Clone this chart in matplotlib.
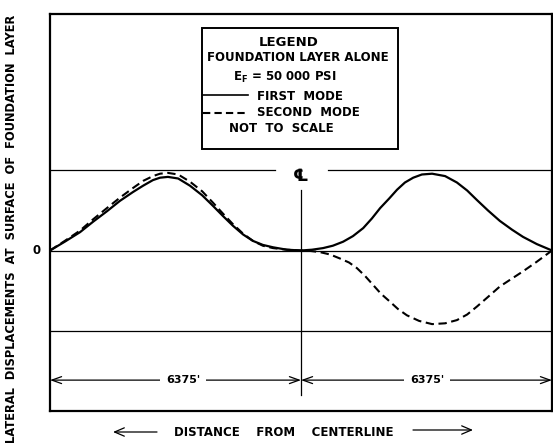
import matplotlib
matplotlib.use("Agg")
import matplotlib.pyplot as plt
from matplotlib.patches import Rectangle
from matplotlib.lines import Line2D

# distance from centerline (ft) and lateral displacement (relative, not to scale)
dist_left = [-6375, -6000, -5610, -5280, -4930, -4600, -4270, -4010, -3760, -3580, -3380, -3120,
             -2820, -2510, -2240, -1980, -1730, -1470, -1220, -970, -710, -360, 0]
first_left = [0.0, 0.11, 0.23, 0.36, 0.49, 0.62, 0.73, 0.81, 0.88, 0.91, 0.92, 0.90,
              0.81, 0.69, 0.56, 0.43, 0.31, 0.20, 0.12, 0.07, 0.04, 0.01, 0.0]
second_left = [0.0, 0.12, 0.25, 0.39, 0.53, 0.66, 0.78, 0.87, 0.93, 0.96, 0.97, 0.95,
               0.86, 0.74, 0.60, 0.46, 0.33, 0.21, 0.12, 0.06, 0.03, 0.01, 0.0]

dist_first_right = [280, 560, 810, 1070, 1320, 1580, 1800, 2010, 2240, 2440, 2640, 2850,
                    3070, 3330, 3660, 3960, 4220, 4470, 4750, 5050, 5360, 5640, 5990, 6375]
first_right = [0.01, 0.03, 0.06, 0.11, 0.18, 0.28, 0.40, 0.53, 0.65, 0.76, 0.85, 0.91,
               0.95, 0.96, 0.93, 0.85, 0.75, 0.63, 0.50, 0.37, 0.26, 0.17, 0.08, 0.0]

dist_second_right = [230, 480, 740, 990, 1220, 1420, 1630, 1830, 2030, 2260, 2460, 2690,
                     3000, 3330, 3660, 3960, 4220, 4470, 4750, 5050, 5360, 5640, 5990, 6375]
second_right = [-0.005, -0.02, -0.05, -0.10, -0.15, -0.22, -0.32, -0.43, -0.54, -0.64, -0.73, -0.81,
                -0.88, -0.92, -0.91, -0.87, -0.80, -0.70, -0.58, -0.45, -0.35, -0.26, -0.14, 0.0]

half_span = 6375
dim_label = "6375'"

W, H = 553, 446


def fx(px):
    return px / W


def fy(py):
    return 1 - py / H


fig = plt.figure(figsize=(W / 100, H / 100), dpi=100)
fig.patch.set_facecolor("white")
ax = fig.add_axes([fx(50), fy(411), 502 / W, 397 / H])
ax.set_xlim(-half_span, half_span)
ax.set_ylim(-2.006, 2.956)
ax.set_xticks([])
ax.set_yticks([])
for sp in ax.spines.values():
    sp.set_linewidth(1.6)

bold = dict(fontweight="bold", family="DejaVu Sans", color="black")

# reference lines
ax.plot([-half_span, -660], [1, 1], color="black", lw=0.9)
ax.plot([690, half_span], [1, 1], color="black", lw=0.9)
ax.axhline(0, color="black", lw=0.9)
ax.axhline(-1, color="black", lw=0.9)
ax.plot([0, 0], [0.76, -1.81], color="black", lw=0.9)
ax.text(0, 0.93, "\u2104", ha="center", va="center", fontsize=12.5, **bold)

# mode shapes
ax.plot(dist_left + dist_first_right, first_left + first_right,
        color="black", lw=1.6, solid_joinstyle="round")
ax.plot(dist_left + dist_second_right, second_left + second_right,
        color="black", lw=1.5, linestyle=(0, (4, 2.2)))

# dimension lines
yd = -1.62
arrow = dict(arrowstyle="<->,head_length=0.7,head_width=0.25", lw=0.9, color="black",
             shrinkA=0, shrinkB=0)
ax.annotate("", xy=(-half_span, yd), xytext=(0, yd), arrowprops=arrow)
ax.annotate("", xy=(0, yd), xytext=(half_span, yd), arrowprops=arrow)
tb = dict(facecolor="white", edgecolor="none", pad=4)
ax.text(-3000, yd, dim_label, ha="center", va="center", fontsize=8, bbox=tb, zorder=5, **bold)
ax.text(3200, yd, dim_label, ha="center", va="center", fontsize=8, bbox=tb, zorder=5, **bold)

ax.text(-half_span - 250, 0, "0", ha="right", va="center", fontsize=8.5, **bold)

# legend block
fig.add_artist(Rectangle((fx(202), fy(149)), (398 - 202) / W, (149 - 28) / H,
                         transform=fig.transFigure, fill=False, lw=1.4, edgecolor="black"))
fig.text(fx(289), fy(42), "LEGEND", ha="center", va="center", fontsize=9.5, **bold)
fig.text(fx(298), fy(58), "FOUNDATION LAYER ALONE", ha="center", va="center", fontsize=8.5, **bold)
fig.text(fx(285), fy(77), r"E$_\mathbf{F}$ = 50 000 PSI", ha="center", va="center", fontsize=8.5, **bold)
fig.add_artist(Line2D([fx(203), fx(248)], [fy(95), fy(95)], transform=fig.transFigure,
                      color="black", lw=1.2))
fig.add_artist(Line2D([fx(203), fx(248)], [fy(113), fy(113)], transform=fig.transFigure,
                      color="black", lw=1.5, linestyle=(0, (3.5, 2))))
fig.text(fx(257), fy(97), "FIRST  MODE", ha="left", va="center", fontsize=8.5, **bold)
fig.text(fx(257), fy(113), "SECOND  MODE", ha="left", va="center", fontsize=8.5, **bold)
fig.text(fx(281), fy(129), "NOT  TO  SCALE", ha="center", va="center", fontsize=8.5, **bold)

# axis labels
fig.text(fx(11.5), fy(229), "LATERAL  DISPLACEMENTS  AT  SURFACE  OF  FOUNDATION  LAYER",
         rotation=90, ha="center", va="center", fontsize=8.3, **bold)
fig.text(fx(284), fy(432), "DISTANCE    FROM    CENTERLINE", ha="center", va="center",
         fontsize=8.5, **bold)
xarrow = dict(arrowstyle="->,head_length=0.7,head_width=0.3", lw=0.9, color="black",
              shrinkA=0, shrinkB=0)
ax.annotate("", xy=(fx(113), fy(432)), xytext=(fx(157), fy(432)),
            xycoords="figure fraction", textcoords="figure fraction", arrowprops=xarrow)
ax.annotate("", xy=(fx(473), fy(430)), xytext=(fx(413), fy(430)),
            xycoords="figure fraction", textcoords="figure fraction", arrowprops=xarrow)

fig.savefig("out.png", dpi=100)
